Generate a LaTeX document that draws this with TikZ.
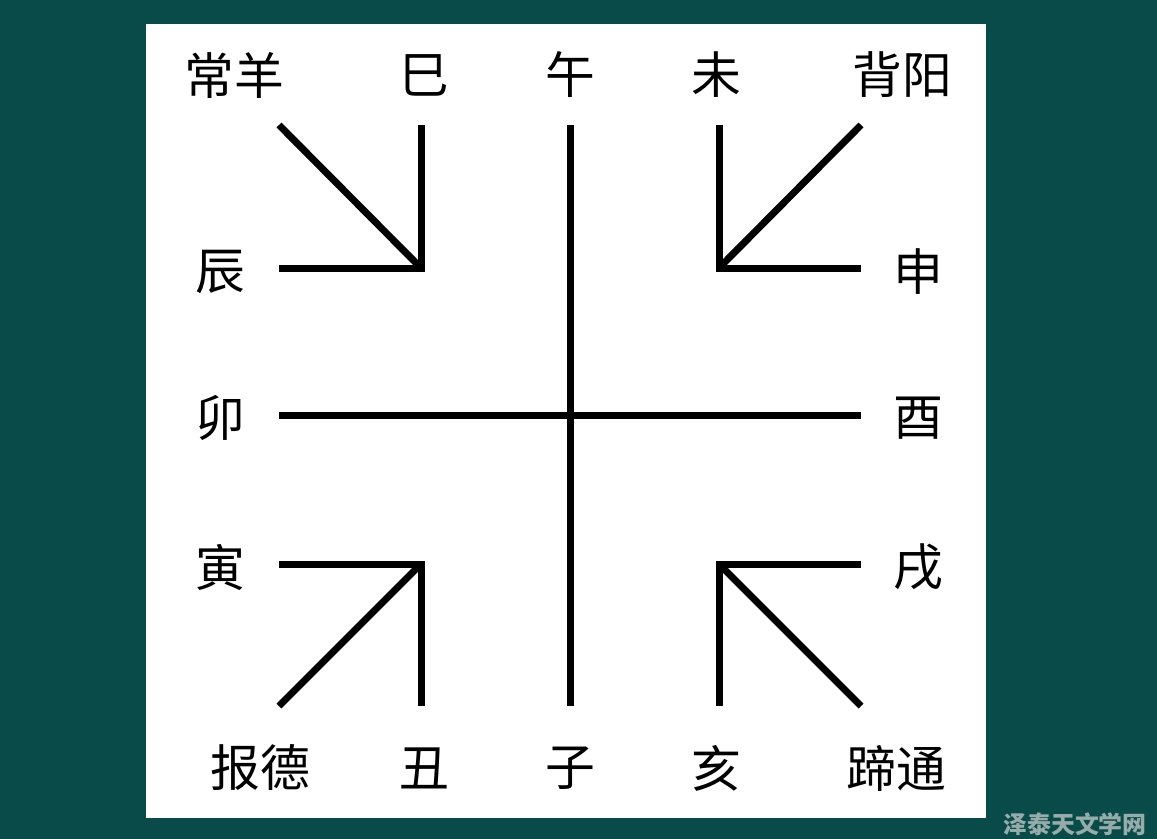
\documentclass[tikz,border=0pt]{standalone}
\usepackage{fontspec}
\newfontfamily\cjk{Noto Sans CJK SC}
\usetikzlibrary{%
    positioning
}
\definecolor{boardbg}{RGB}{9,75,72}
\definecolor{markgray}{RGB}{150,172,170}
\tikzset{
    branch/.style = {
        font=\cjk\fontsize{50}{54}\selectfont,
        inner sep=0pt, outer sep=0pt
    },
    stroke/.style = {
        line width=7bp, line cap=butt, black
    }
}

\begin{document}
\begin{tikzpicture}[x=1bp, y=-1bp]
    % background and panel
    \fill[boardbg] (0,0) rectangle (1157,839);
    \useasboundingbox (0,0) rectangle (1157,839);
    \fill[white] (146,24) rectangle (986,818);

    % corner points of the lines
    \coordinate (tlA) at (279,125);
    \coordinate (tlB) at (421,125);
    \coordinate (tlC) at (279,268);
    \coordinate (tlK) at (421,268);
    \coordinate (trA) at (861,125);
    \coordinate (trB) at (719,125);
    \coordinate (trC) at (861,268);
    \coordinate (trK) at (719,268);
    \coordinate (blA) at (279,706);
    \coordinate (blB) at (421,706);
    \coordinate (blC) at (279,564);
    \coordinate (blK) at (421,564);
    \coordinate (brA) at (861,706);
    \coordinate (brB) at (719,706);
    \coordinate (brC) at (861,564);
    \coordinate (brK) at (719,564);
    \coordinate (north) at (570,125);
    \coordinate (south) at (570,706);
    \coordinate (west) at (279,415);
    \coordinate (east) at (861,415);

    % labels
    \node[branch] (changyang) at (234,75) {常羊};
    \node[branch] (si) at (424,75) {巳};
    \node[branch] (wu) at (570,75) {午};
    \node[branch] (wei) at (716,75) {未};
    \node[branch] (beiyang) at (902,75) {背阳};
    \node[branch] (chen) at (220,272) {辰};
    \node[branch] (shen) at (918,272) {申};
    \node[branch] (mao) at (220,418) {卯};
    \node[branch] (you) at (918,418) {酉};
    \node[branch] (yin) at (220,567) {寅};
    \node[branch] (xu) at (918,567) {戌};
    \node[branch] (baode) at (260,768) {报德};
    \node[branch] (chou) at (424,768) {丑};
    \node[branch] (zi) at (570,768) {子};
    \node[branch] (hai) at (716,768) {亥};
    \node[branch] (titong) at (896,768) {蹄通};

    % cross
    \draw[stroke] (north) -- (south);
    \draw[stroke] (west) -- (east);
    % corners
    \draw[stroke] (tlA) -- (tlK);
    \draw[stroke, line join=miter] (tlB) -- (tlK) -- (tlC);
    \draw[stroke] (trA) -- (trK);
    \draw[stroke, line join=miter] (trB) -- (trK) -- (trC);
    \draw[stroke] (blA) -- (blK);
    \draw[stroke, line join=miter] (blB) -- (blK) -- (blC);
    \draw[stroke] (brA) -- (brK);
    \draw[stroke, line join=miter] (brB) -- (brK) -- (brC);

    % watermark
    \node[font=\cjk\bfseries\fontsize{24}{26}\selectfont, text=markgray,
        inner sep=0pt] (mark) at (1075,824) {泽泰天文学网};
\end{tikzpicture}
\end{document}
